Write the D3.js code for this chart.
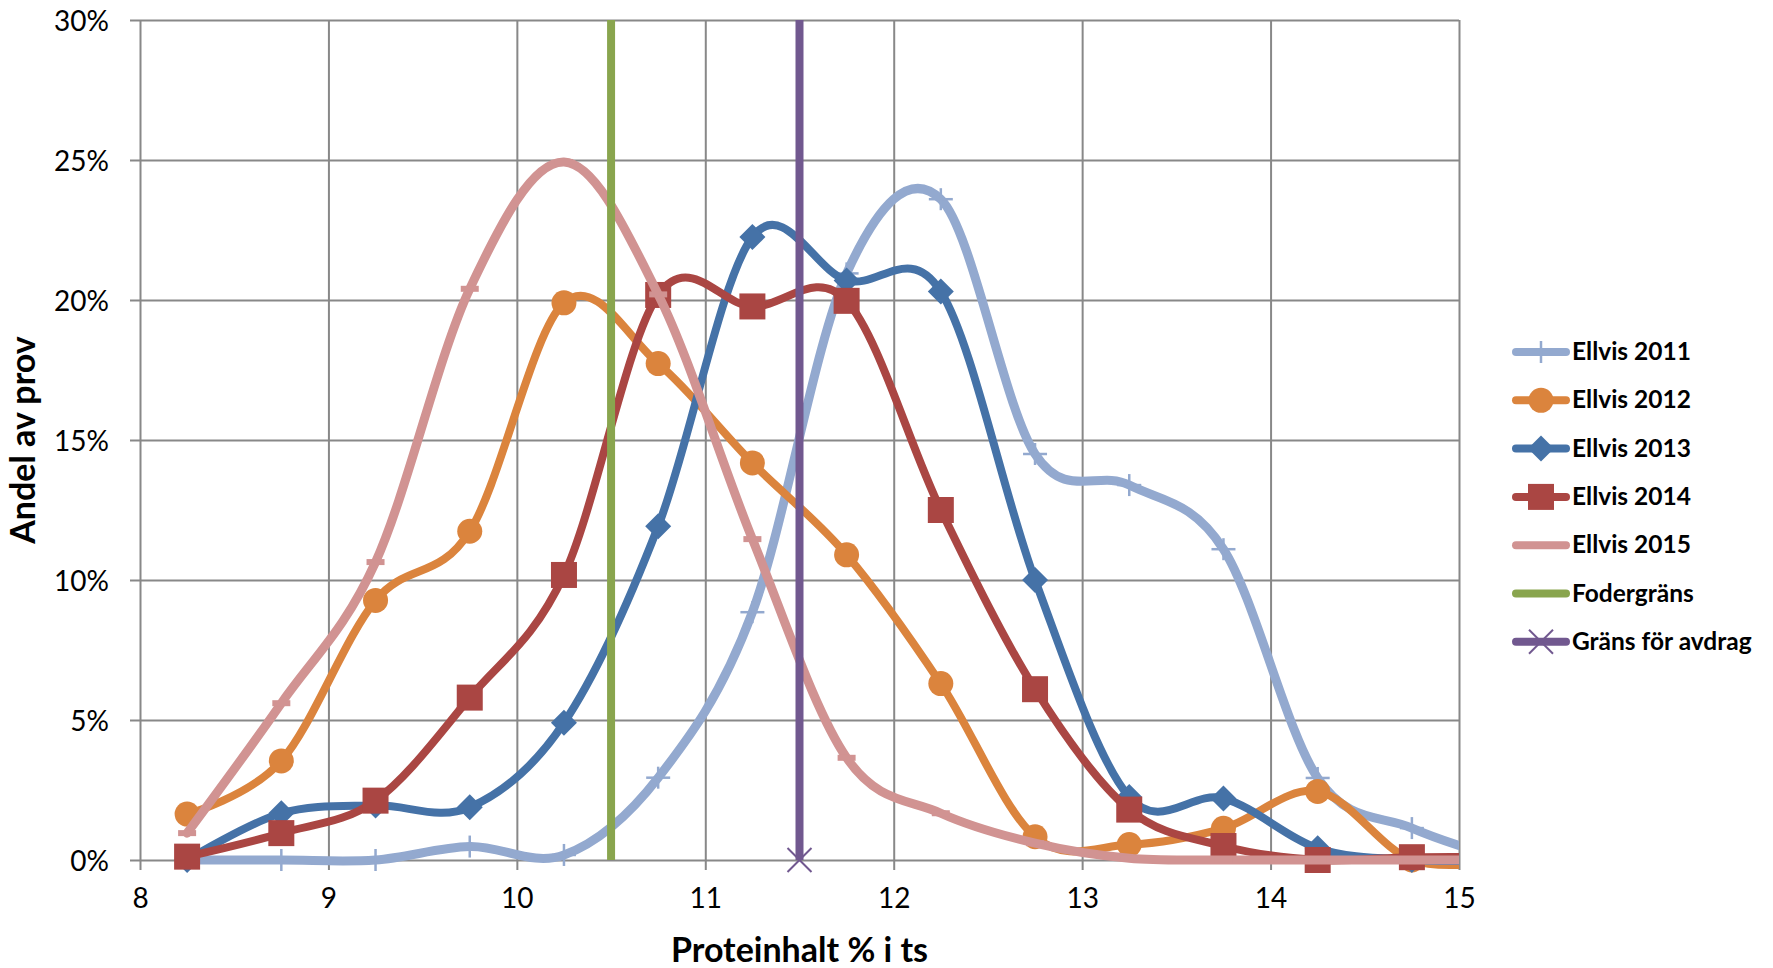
<!DOCTYPE html>
<html>
<head>
<meta charset="utf-8">
<script src="https://cdn.jsdelivr.net/npm/d3@7"></script>
<style>
  html, body { margin: 0; padding: 0; background: #fff; }
  svg { display: block; }
  text { font-family: Lato, "Open Sans", sans-serif; fill: #000; }
</style>
</head>
<body>
<svg id="chart" width="1773" height="968"></svg>
<script>
// ---- data ----
const protein = [8.25, 8.75, 9.25, 9.75, 10.25, 10.75, 11.25, 11.75, 12.25, 12.75, 13.25, 13.75, 14.25, 14.75, 15.25];
const ellvis2011 = [0, 0, 0, 0.48, 0.18, 2.94, 8.85, 20.95, 23.6, 14.5, 13.39, 11.1, 2.93, 1.14, 0];
const ellvis2012 = [1.64, 3.54, 9.27, 11.74, 19.9, 17.73, 14.18, 10.9, 6.3, 0.83, 0.55, 1.13, 2.45, 0, 0];
const ellvis2013 = [0, 1.67, 1.95, 1.88, 4.9, 11.92, 22.25, 20.7, 20.3, 10.0, 2.25, 2.2, 0.42, 0, 0];
const ellvis2014 = [0.12, 0.96, 2.12, 5.8, 10.18, 20.18, 19.77, 19.97, 12.5, 6.1, 1.8, 0.5, 0, 0.1, 0.1];
const ellvis2015 = [0.96, 5.6, 10.64, 20.4, 24.93, 20.2, 11.46, 3.65, 1.67, 0.6, 0.06, 0, 0, 0, 0];
const fodergransX = [10.5, 10.5];
const fodergransY = [0, 30];
const avdragX = [11.5, 11.5];
const avdragY = [0, 30];
const xTicks = [8, 9, 10, 11, 12, 13, 14, 15];
const yTicks = [0, 5, 10, 15, 20, 25, 30];
const seriesNames = ["Ellvis 2011", "Ellvis 2012", "Ellvis 2013", "Ellvis 2014", "Ellvis 2015", "Fodergräns", "Gräns för avdrag"];
const seriesColors = ["#93A9CF", "#DB843D", "#4572A7", "#AA4643", "#D19392", "#89A54E", "#71588F"];
const seriesMarkers = ["plus", "circle", "diamond", "square", "dash", "none", "x"];

// ---- layout ----
const svg = d3.select("#chart");
const L = 140, R = 1459, T = 20, B = 860;
const x = d3.scaleLinear().domain([8, 15]).range([L, R]);
const y = d3.scaleLinear().domain([0, 30]).range([B, T]);

svg.append("rect").attr("width", 1773).attr("height", 968).attr("fill", "#fff");

svg.append("defs").append("clipPath").attr("id", "plotclip")
  .append("rect").attr("x", L).attr("y", T - 10).attr("width", R - L).attr("height", B - T + 20);

// grid + axes
const gy = svg.append("g").attr("transform", `translate(${L - 10},0)`)
  .call(d3.axisLeft(y).tickValues(yTicks).tickSize(-(R - L + 10)).tickPadding(21).tickFormat(d => d + "%"));
gy.select(".domain").remove();
gy.selectAll("line").attr("stroke", "#888").attr("stroke-width", 2);
gy.selectAll("text").attr("font-size", 28).attr("dy", "0.36em").style("font-family", "Lato");

const gx = svg.append("g").attr("transform", `translate(0,${B + 10})`)
  .call(d3.axisBottom(x).tickValues(xTicks).tickSize(-(B - T + 10)).tickPadding(18).tickFormat(d3.format("d")));
gx.select(".domain").remove();
gx.selectAll("line").attr("stroke", "#888").attr("stroke-width", 2);
gx.selectAll("text").attr("font-size", 28).attr("dy", "0.71em").style("font-family", "Lato");

// axis titles
svg.append("text").attr("x", (L + R) / 2).attr("y", 962).attr("text-anchor", "middle")
  .attr("font-size", 34).attr("font-weight", "bold").text("Proteinhalt % i ts");
svg.append("text").attr("transform", `translate(35,${(T + B) / 2}) rotate(-90)`).attr("text-anchor", "middle")
  .attr("font-size", 34).attr("font-weight", "bold").text("Andel av prov");

// ---- series ----
const seriesValues = [ellvis2011, ellvis2012, ellvis2013, ellvis2014, ellvis2015];
const widths = [9, 8, 8, 8, 9];
const line = d3.line().x(d => x(d[0])).y(d => y(d[1])).curve(d3.curveCatmullRom.alpha(0));

function drawMarker(g, type, cx, cy, color) {
  if (type === "plus") {
    g.append("line").attr("x1", cx - 12).attr("x2", cx + 12).attr("y1", cy).attr("y2", cy).attr("stroke", color).attr("stroke-width", 2.5);
    g.append("line").attr("x1", cx).attr("x2", cx).attr("y1", cy - 11).attr("y2", cy + 11).attr("stroke", color).attr("stroke-width", 2.5);
  } else if (type === "circle") {
    g.append("circle").attr("cx", cx).attr("cy", cy).attr("r", 12.5).attr("fill", color);
  } else if (type === "diamond") {
    const s = 13;
    g.append("path").attr("d", `M${cx},${cy - s}L${cx + s},${cy}L${cx},${cy + s}L${cx - s},${cy}Z`).attr("fill", color);
  } else if (type === "square") {
    g.append("rect").attr("x", cx - 13).attr("y", cy - 13).attr("width", 26).attr("height", 26).attr("fill", color);
  } else if (type === "dash") {
    g.append("rect").attr("x", cx - 9).attr("y", cy - 3).attr("width", 18).attr("height", 6).attr("fill", color);
  } else if (type === "x") {
    const s = 12;
    g.append("line").attr("x1", cx - s).attr("x2", cx + s).attr("y1", cy - s).attr("y2", cy + s).attr("stroke", color).attr("stroke-width", 2);
    g.append("line").attr("x1", cx - s).attr("x2", cx + s).attr("y1", cy + s).attr("y2", cy - s).attr("stroke", color).attr("stroke-width", 2);
  }
}

seriesValues.forEach((vals, i) => {
  const pts = protein.map((p, j) => [p, vals[j]]);
  const g = svg.append("g");
  g.append("path").attr("d", line(pts)).attr("fill", "none")
    .attr("stroke", seriesColors[i]).attr("stroke-width", widths[i])
    .attr("stroke-linejoin", "round").attr("stroke-linecap", "round")
    .attr("clip-path", "url(#plotclip)");
  pts.filter(d => d[0] <= 15).forEach(d => drawMarker(g, seriesMarkers[i], x(d[0]), y(d[1]), seriesColors[i]));
});

// vertical limit lines
const gf = svg.append("g");
gf.append("path").attr("d", d3.line().x(d => x(d[0])).y(d => y(d[1]))(fodergransX.map((v, j) => [v, fodergransY[j]])))
  .attr("stroke", seriesColors[5]).attr("stroke-width", 8).attr("fill", "none");
const ga = svg.append("g");
ga.append("path").attr("d", d3.line().x(d => x(d[0])).y(d => y(d[1]))(avdragX.map((v, j) => [v, avdragY[j]])))
  .attr("stroke", seriesColors[6]).attr("stroke-width", 8).attr("fill", "none");
drawMarker(ga, "x", x(avdragX[0]), y(avdragY[0]), seriesColors[6]);

// ---- legend ----
const legY0 = 352, legStep = 48.3;
seriesNames.forEach((name, i) => {
  const cy = legY0 + i * legStep;
  const g = svg.append("g");
  g.append("line").attr("x1", 1516).attr("x2", 1566).attr("y1", cy).attr("y2", cy)
    .attr("stroke", seriesColors[i]).attr("stroke-width", 8).attr("stroke-linecap", "round");
  drawMarker(g, seriesMarkers[i], 1541, cy, seriesColors[i]);
  g.append("text").attr("x", 1572).attr("y", cy + 8).attr("font-size", 24.5).attr("font-weight", "bold").text(name);
});
</script>
</body>
</html>
